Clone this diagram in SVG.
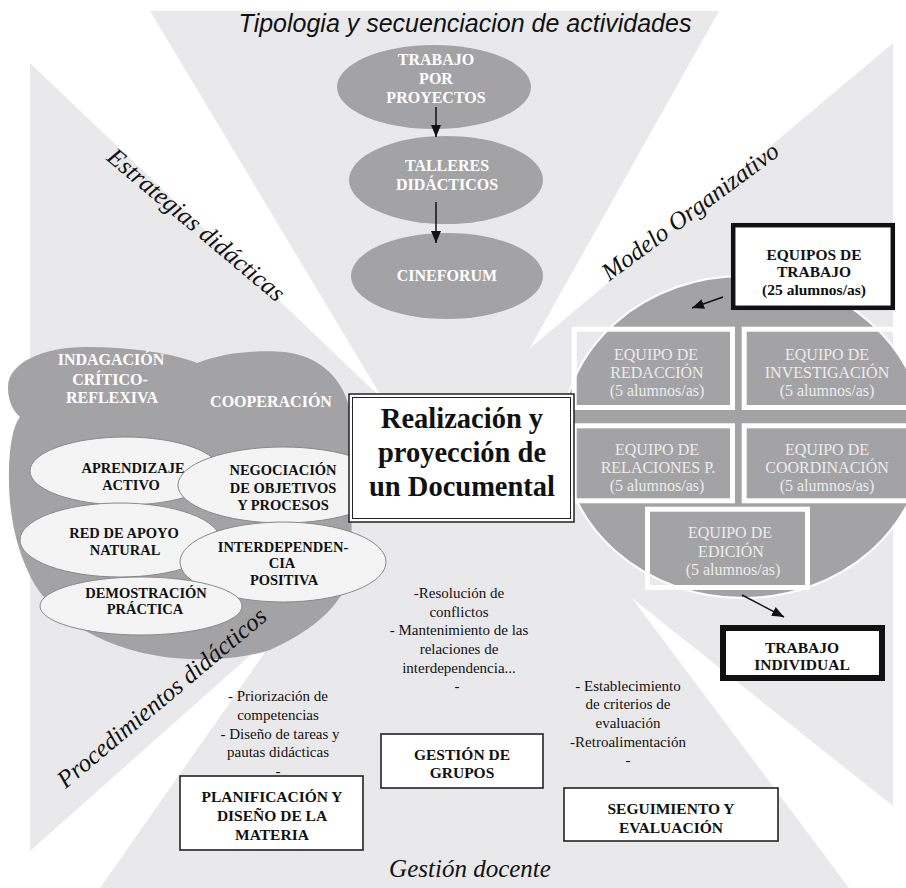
<svg xmlns="http://www.w3.org/2000/svg" width="906" height="888" viewBox="0 0 906 888">
<style>
.bg{fill:#e9e9eb}
.dk{fill:#a3a3a5}
.lt{fill:#f4f4f4;stroke:#8a8a8a;stroke-width:1}
.s{font-family:"Liberation Serif","Times New Roman",serif;text-anchor:middle}
.wt{font-weight:bold;font-size:16px;fill:#fff}
.bt{font-weight:bold;font-size:14.5px;fill:#111}
.tm{font-size:16px;fill:#ececec}
.nt{font-size:15px;fill:#111}
.bx{font-weight:bold;font-size:15.5px;fill:#111}
.it{font-style:italic;font-size:25px;fill:#111}
.box{fill:#fff;stroke:#222;stroke-width:1.6}
.tf{fill:none;stroke:#fff;stroke-width:5}
.cn{stroke:#111;stroke-width:1.5;fill:none;marker-end:url(#ah)}
</style>
<defs>
<marker id="ah" viewBox="0 0 12 10" refX="12" refY="5" markerWidth="12" markerHeight="10" markerUnits="userSpaceOnUse" orient="auto">
<path d="M0,0 L12,5 L0,10 z" fill="#111"/>
</marker>
</defs>
<rect width="906" height="888" fill="#fff"/>
<g id="background">
<polygon class="bg" points="150,11 719,11 444,501"/>
<polygon class="bg" points="30,63 30,851 458,471"/>
<polygon class="bg" points="893,43 893,806 427,435"/>
<polygon class="bg" points="100,888 849,888 462,371"/>
</g>
<g id="estrategias-blob">
<path class="dk" d="M8,387 C8,362 45,347 85,347 C135,347 175,354 197,363 C225,352 260,350 285,352 C320,356 345,380 350,412 L352,560 C350,575 348,583 345,588 C335,610 310,632 270,650 C245,658 215,660 190,659 C120,657 60,625 35,585 C15,550 8,510 9,470 C10,440 14,425 20,417 C12,410 8,400 8,387 Z"/>
<text class="s wt" x="111" y="365">INDAGACIÓN</text>
<text class="s wt" x="110" y="385">CRÍTICO-</text>
<text class="s wt" x="112" y="403">REFLEXIVA</text>
<text class="s wt" x="271" y="407">COOPERACIÓN</text>
</g>
<g id="aprendizaje">
<ellipse class="lt" cx="125" cy="471" rx="95" ry="34"/>
<text class="s bt" x="133" y="473">APRENDIZAJE</text>
<text class="s bt" x="131" y="490">ACTIVO</text>
</g>
<g id="negociacion">
<ellipse class="lt" cx="283" cy="485" rx="105" ry="38"/>
<text class="s bt" x="283" y="475">NEGOCIACIÓN</text>
<text class="s bt" x="283" y="493">DE OBJETIVOS</text>
<text class="s bt" x="283" y="510">Y PROCESOS</text>
</g>
<g id="red-apoyo">
<ellipse class="lt" cx="120" cy="540" rx="100" ry="37"/>
<text class="s bt" x="124" y="538">RED DE APOYO</text>
<text class="s bt" x="125" y="555">NATURAL</text>
</g>
<g id="interdependencia">
<ellipse class="lt" cx="283" cy="562" rx="103" ry="40"/>
<text class="s bt" x="283" y="552">INTERDEPENDEN-</text>
<text class="s bt" x="282" y="568">CIA</text>
<text class="s bt" x="284" y="585">POSITIVA</text>
</g>
<g id="demostracion">
<ellipse class="lt" cx="141" cy="606" rx="101" ry="29"/>
<text class="s bt" x="146" y="598">DEMOSTRACIÓN</text>
<text class="s bt" x="145" y="614">PRÁCTICA</text>
</g>
<g id="labels">
<text x="465" y="32" style="font-family:'Liberation Sans',Arial,sans-serif;font-style:italic;font-size:25px;fill:#111;text-anchor:middle">Tipologia y secuenciacion de actividades</text>
<text class="s it" transform="translate(191,231) rotate(40)" x="0" y="0">Estrategias didácticas</text>
<text class="s it" transform="translate(695,218) rotate(-36.5)" x="0" y="0">Modelo Organizativo</text>
<text class="s it" transform="translate(167,704) rotate(-40)" x="0" y="0">Procedimientos didácticos</text>
<text class="s it" x="470" y="877">Gestión docente</text>
</g>
<g id="trabajo-proyectos">
<ellipse class="dk" cx="434" cy="87" rx="97" ry="42"/>
<text class="s wt" x="436" y="65">TRABAJO</text>
<text class="s wt" x="436" y="84">POR</text>
<text class="s wt" x="436" y="103">PROYECTOS</text>
</g>
<g id="talleres">
<ellipse class="dk" cx="446" cy="180" rx="97" ry="44"/>
<text class="s wt" x="447" y="171">TALLERES</text>
<text class="s wt" x="447" y="190">DIDÁCTICOS</text>
</g>
<g id="cineforum">
<ellipse class="dk" cx="447" cy="276" rx="96" ry="43"/>
<text class="s wt" x="447" y="281">CINEFORUM</text>
</g>
<g id="equipos-circle">
<ellipse class="dk" cx="743" cy="437" rx="181" ry="161" stroke="#fff" stroke-width="2"/>
</g>
<g id="equipo-redaccion">
<rect class="tf" x="574.2" y="329.2" width="158.3" height="78.3"/>
<text class="s tm" x="656" y="360">EQUIPO DE</text>
<text class="s tm" x="657" y="378">REDACCIÓN</text>
<text class="s tm" x="657" y="396">(5 alumnos/as)</text>
</g>
<g id="equipo-investigacion">
<rect class="tf" x="744.2" y="329.2" width="170" height="78.3"/>
<text class="s tm" x="827" y="360">EQUIPO DE</text>
<text class="s tm" x="827" y="378">INVESTIGACIÓN</text>
<text class="s tm" x="827" y="396">(5 alumnos/as)</text>
</g>
<g id="equipo-relaciones">
<rect class="tf" x="574.2" y="425.8" width="158.3" height="75"/>
<text class="s tm" x="657" y="455">EQUIPO DE</text>
<text class="s tm" x="658" y="473">RELACIONES P.</text>
<text class="s tm" x="657" y="491">(5 alumnos/as)</text>
</g>
<g id="equipo-coordinacion">
<rect class="tf" x="744.2" y="425.8" width="170" height="75"/>
<text class="s tm" x="827" y="455">EQUIPO DE</text>
<text class="s tm" x="827" y="473">COORDINACIÓN</text>
<text class="s tm" x="827" y="491">(5 alumnos/as)</text>
</g>
<g id="equipo-edicion">
<rect class="tf" x="647.5" y="509.2" width="160" height="78.3"/>
<text class="s tm" x="730" y="538">EQUIPO DE</text>
<text class="s tm" x="731" y="557">EDICIÓN</text>
<text class="s tm" x="733" y="575">(5 alumnos/as)</text>
</g>
<g id="equipos-trabajo">
<rect x="733.2" y="225.2" width="159.6" height="82.6" fill="#fff" stroke="#111" stroke-width="4.5"/>
<text class="s bx" x="814" y="260">EQUIPOS DE</text>
<text class="s bx" x="814" y="277">TRABAJO</text>
<text class="s bx" x="814" y="295">(25 alumnos/as)</text>
</g>
<g id="trabajo-individual">
<rect x="723" y="628" width="159" height="50" fill="#fff" stroke="#111" stroke-width="6"/>
<text class="s bx" x="802" y="653">TRABAJO</text>
<text class="s bx" x="802" y="670">INDIVIDUAL</text>
</g>
<g id="connectors">
<line class="cn" x1="436" y1="107" x2="436" y2="137"/>
<line class="cn" x1="436" y1="202" x2="436" y2="243"/>
<line class="cn" x1="723" y1="297" x2="692" y2="308"/>
<line class="cn" x1="742" y1="595" x2="784" y2="617"/>
</g>
<g id="documental">
<rect x="349" y="394" width="225" height="128" fill="#fff" stroke="#222" stroke-width="1.5"/>
<rect x="352.5" y="397.5" width="218" height="121" fill="none" stroke="#222" stroke-width="1"/>
<text class="s" x="462" y="428" style="font-weight:bold;font-size:28.5px;fill:#111">Realización y</text>
<text class="s" x="462" y="462" style="font-weight:bold;font-size:28.5px;fill:#111">proyección de</text>
<text class="s" x="462" y="496" style="font-weight:bold;font-size:28.5px;fill:#111">un Documental</text>
</g>
<g id="notas-grupos">
<text class="s nt" x="459" y="598">-Resolución de</text>
<text class="s nt" x="459" y="617">conflictos</text>
<text class="s nt" x="459" y="635">- Mantenimiento de las</text>
<text class="s nt" x="459" y="654">relaciones de</text>
<text class="s nt" x="459" y="673">interdependencia...</text>
<text class="s nt" x="457" y="691">-</text>
</g>
<g id="notas-planificacion">
<text class="s nt" x="278" y="701">- Priorización de</text>
<text class="s nt" x="278" y="720">competencias</text>
<text class="s nt" x="280" y="739">- Diseño de tareas y</text>
<text class="s nt" x="278" y="757">pautas didácticas</text>
<text class="s nt" x="278" y="776">-</text>
</g>
<g id="notas-seguimiento">
<text class="s nt" x="628" y="691">- Establecimiento</text>
<text class="s nt" x="628" y="709">de criterios de</text>
<text class="s nt" x="628" y="728">evaluación</text>
<text class="s nt" x="628" y="747">-Retroalimentación</text>
<text class="s nt" x="628" y="765">-</text>
</g>
<g id="planificacion">
<rect class="box" x="180" y="776" width="183" height="74"/>
<text class="s bx" x="272" y="802">PLANIFICACIÓN Y</text>
<text class="s bx" x="272" y="821">DISEÑO DE LA</text>
<text class="s bx" x="272" y="840">MATERIA</text>
</g>
<g id="gestion-grupos">
<rect class="box" x="381" y="734" width="162" height="54"/>
<text class="s bx" x="462" y="760">GESTIÓN DE</text>
<text class="s bx" x="462" y="778">GRUPOS</text>
</g>
<g id="seguimiento">
<rect class="box" x="564" y="788" width="214" height="53"/>
<text class="s bx" x="671" y="814">SEGUIMIENTO Y</text>
<text class="s bx" x="671" y="833">EVALUACIÓN</text>
</g>
</svg>
